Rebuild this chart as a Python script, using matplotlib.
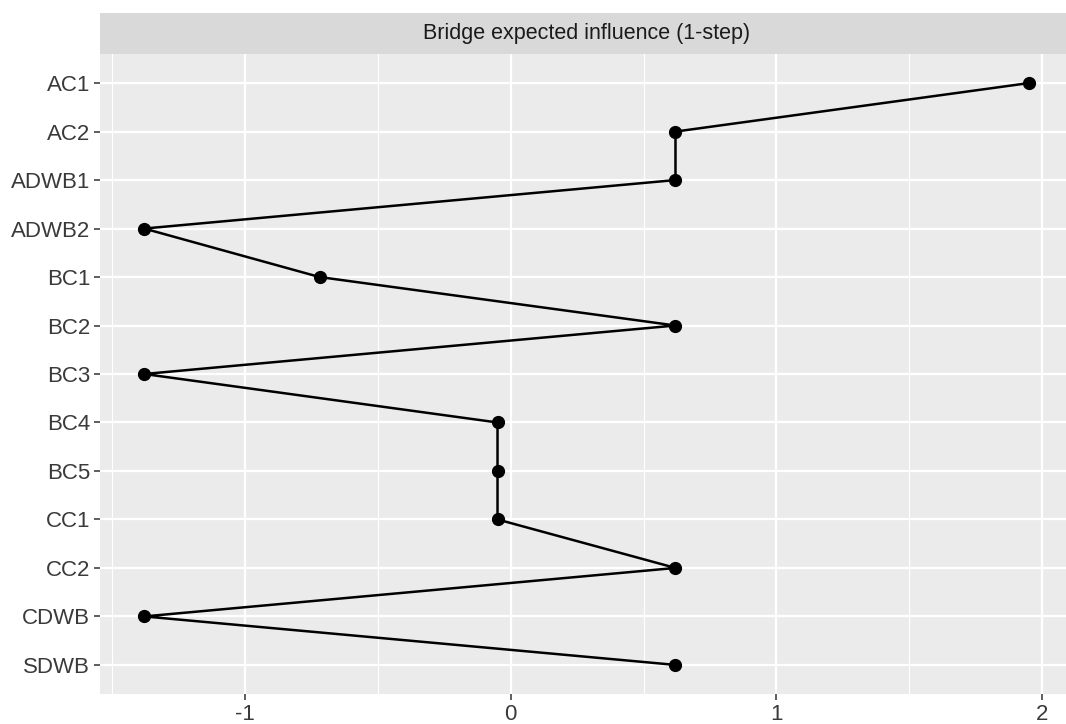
import matplotlib
matplotlib.use("Agg")
import matplotlib.pyplot as plt
from matplotlib.ticker import MultipleLocator

# node labels (top to bottom) and bridge expected influence values
nodes = ["AC1", "AC2", "ADWB1", "ADWB2", "BC1", "BC2", "BC3",
         "BC4", "BC5", "CC1", "CC2", "CDWB", "SDWB"]
values = [1.95, 0.62, 0.62, -1.38, -0.72, 0.62, -1.38,
          -0.05, -0.05, -0.05, 0.62, -1.38, 0.62]
x_ticks = [-1, 0, 1, 2]
strip_title = "Bridge expected influence (1-step)"

plt.rcParams["font.family"] = ["Liberation Sans", "DejaVu Sans"]

fig = plt.figure(figsize=(10.66, 7.24), dpi=100)
W, H = 1066.0, 724.0
left, right, top, bottom = 100, 1073, 54, 694
ax = fig.add_axes([left / W, 1 - bottom / H, (right - left) / W, (bottom - top) / H])
ax.set_facecolor("#EBEBEB")

ypos = list(range(len(nodes), 0, -1))
ax.plot(values, ypos, color="black", lw=1.8, zorder=3)
ax.plot(values, ypos, "o", color="black", ms=8.5, zorder=4)

rng = max(values) - min(values)
ax.set_xlim(min(values) - 0.05 * rng, max(values) + 0.05 * rng)
ax.set_ylim(0.4, len(nodes) + 0.6)
ax.set_xticks(x_ticks)
ax.set_xticklabels([str(t) for t in x_ticks])
ax.xaxis.set_minor_locator(MultipleLocator(0.5))
ax.set_yticks(ypos)
ax.set_yticklabels(nodes)

ax.grid(which="major", color="white", lw=1.6)
ax.grid(which="minor", axis="x", color="white", lw=0.8)
ax.set_axisbelow(True)
for s in ax.spines.values():
    s.set_visible(False)
ax.tick_params(which="major", length=4, width=1.1, color="#333333",
               labelcolor="#3A3A3A", labelsize=16, pad=3)
ax.tick_params(which="minor", length=0)

# facet strip
strip = fig.add_axes([left / W, 1 - top / H, (right - left) / W, 41 / H])
strip.set_facecolor("#D9D9D9")
strip.set_xticks([]); strip.set_yticks([])
for s in strip.spines.values():
    s.set_visible(False)
strip.text((587 - left) / (right - left), 0.5, strip_title, ha="center", va="center",
           fontsize=15.5, color="#1A1A1A", transform=strip.transAxes)

fig.savefig("out.png", dpi=100)
